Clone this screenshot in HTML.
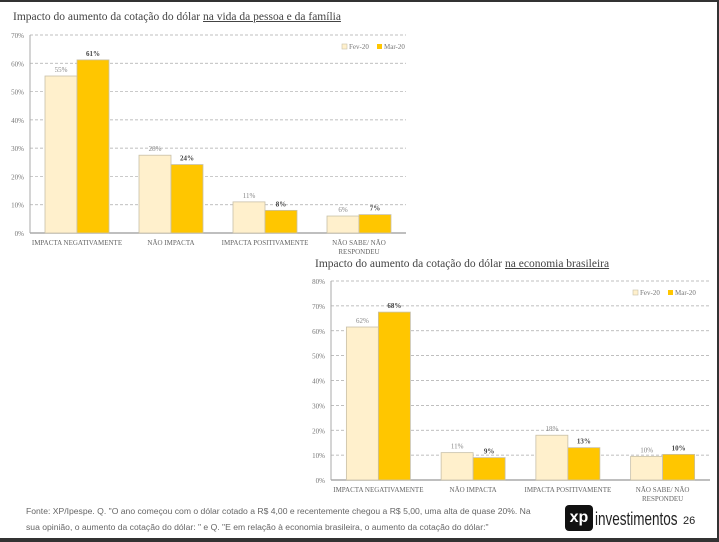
<!DOCTYPE html>
<html><head><meta charset="utf-8">
<style>
body{margin:0;width:719px;height:542px;background:#fff;position:relative;overflow:hidden;font-family:"Liberation Serif",serif}
.t{position:absolute;font-size:11.5px;color:#444;white-space:nowrap}
.t u{text-decoration:underline}
svg text{font-family:"Liberation Serif",serif}
</style></head><body>
<div style="position:absolute;left:0;top:0;width:719px;height:2px;background:#333"></div>
<div style="position:absolute;left:0;top:538px;width:719px;height:4px;background:#333"></div>
<div style="position:absolute;left:717px;top:0;width:2px;height:542px;background:#333"></div>
<div class="t" style="left:13px;top:11px">Impacto do aumento da cotação do dólar <u>na vida da pessoa e da família</u></div>
<div class="t" style="left:315px;top:258px">Impacto do aumento da cotação do dólar <u>na economia brasileira</u></div>
<svg id="s" width="719" height="542" style="position:absolute;left:0;top:0"></svg>
<div style="position:absolute;left:26px;top:503px;font-family:'Liberation Sans',sans-serif;font-size:8.6px;color:#666;line-height:16px;width:512px">Fonte: XP/Ipespe. Q. "O ano começou com o dólar cotado a R$ 4,00 e recentemente chegou a R$ 5,00, uma alta de quase 20%. Na sua opinião, o aumento da cotação do dólar: " e Q. "E em relação à economia brasileira, o aumento da cotação do dólar:"</div>
<div style="position:absolute;left:565px;top:505px;width:28px;height:26px;background:#111;border-radius:4px;color:#fff;font:bold 16px 'Liberation Sans',sans-serif;text-align:center;line-height:26px">xp</div>
<div style="position:absolute;left:595px;top:509px;font:18px 'Liberation Sans',sans-serif;color:#222;transform:scaleX(0.75);transform-origin:left;white-space:nowrap">investimentos</div>
<div style="position:absolute;left:683px;top:515px;font:11px 'Liberation Sans',sans-serif;color:#222">26</div>
<script>
const categories=["IMPACTA NEGATIVAMENTE","NÃO IMPACTA","IMPACTA POSITIVAMENTE","NÃO SABE/ NÃO|RESPONDEU"];
const fev1=[55.5,27.5,11,6];
const mar1=[61.2,24.2,8,6.5];
const fevLabels1=["55%","28%","11%","6%"];
const marLabels1=["61%","24%","8%","7%"];
const fev2=[61.5,11,18,9.5];
const mar2=[67.5,9,13,10.3];
const fevLabels2=["62%","11%","18%","10%"];
const marLabels2=["68%","9%","13%","10%"];
const ticks1=[0,10,20,30,40,50,60,70];
const ticks2=[0,10,20,30,40,50,60,70,80];
const NS="http://www.w3.org/2000/svg";
const svg=document.getElementById('s');
function mk(tag,attrs,text){const e=document.createElementNS(NS,tag);for(const k in attrs)e.setAttribute(k,attrs[k]);if(text!=null)e.textContent=text;svg.appendChild(e);return e;}
function chart(id,x0,x1,y0,yTop,max,ticks,fev,mar,fl,ml,legX,legY){
  const y=v=>y0-(v/max)*(y0-yTop);
  const gw=(x1-x0)/categories.length, bw=32;
  ticks.forEach(t=>{
    if(t>0){const g=mk('line',{x1:x0,x2:x1,y1:y(t),y2:y(t),stroke:'#aaa','stroke-dasharray':'3,2','stroke-width':0.7});
    }
    const l=mk('text',{x:x0-6,y:y(t)+3,'font-size':7,fill:'#777','text-anchor':'end'},t+'%');
    
  });
  const ax=mk('line',{x1:x0,x2:x0,y1:yTop,y2:y0,stroke:'#aaa'});
  const bx=mk('line',{x1:x0,x2:x1,y1:y0,y2:y0,stroke:'#aaa','stroke-width':1.5});
  categories.forEach((c,i)=>{
    const cx=x0+gw*(i+0.5);
    const b1=mk('rect',{x:cx-bw,y:y(fev[i]),width:bw,height:y0-y(fev[i]),fill:'#fff0cc',stroke:'#c8c0a8','stroke-width':0.8});
    
    const b2=mk('rect',{x:cx,y:y(mar[i]),width:bw,height:y0-y(mar[i]),fill:'#ffc600',stroke:'#c8c0a8','stroke-width':0.8});
    
    const t1=mk('text',{x:cx-bw/2,y:y(fev[i])-4,'font-size':7,fill:'#888','text-anchor':'middle'},fl[i]);
    
    const t2=mk('text',{x:cx+bw/2,y:y(mar[i])-4,'font-size':7,fill:'#444','font-weight':'bold','text-anchor':'middle'},ml[i]);
    
    c.split('|').forEach((p,j)=>{
      const ct=mk('text',{x:cx,y:y0+12+j*9,'font-size':7,fill:'#666','text-anchor':'middle'},p);
      
    });
  });
  const lf=mk('rect',{x:legX,y:legY-5,width:5,height:5,fill:'#fff0cc',stroke:'#c8c0a8','stroke-width':0.6});
  const lt=mk('text',{x:legX+7,y:legY,'font-size':7,fill:'#777'},'Fev-20');
  const lm=mk('rect',{x:legX+35,y:legY-5,width:5,height:5,fill:'#ffc600'});
  const lt2=mk('text',{x:legX+42,y:legY,'font-size':7,fill:'#777'},'Mar-20');
}
chart('chart1',30,406,233,35,70,ticks1,fev1,mar1,fevLabels1,marLabels1,342,49);
chart('chart2',331,710,480,281,80,ticks2,fev2,mar2,fevLabels2,marLabels2,633,295);
</script>
</body></html>
